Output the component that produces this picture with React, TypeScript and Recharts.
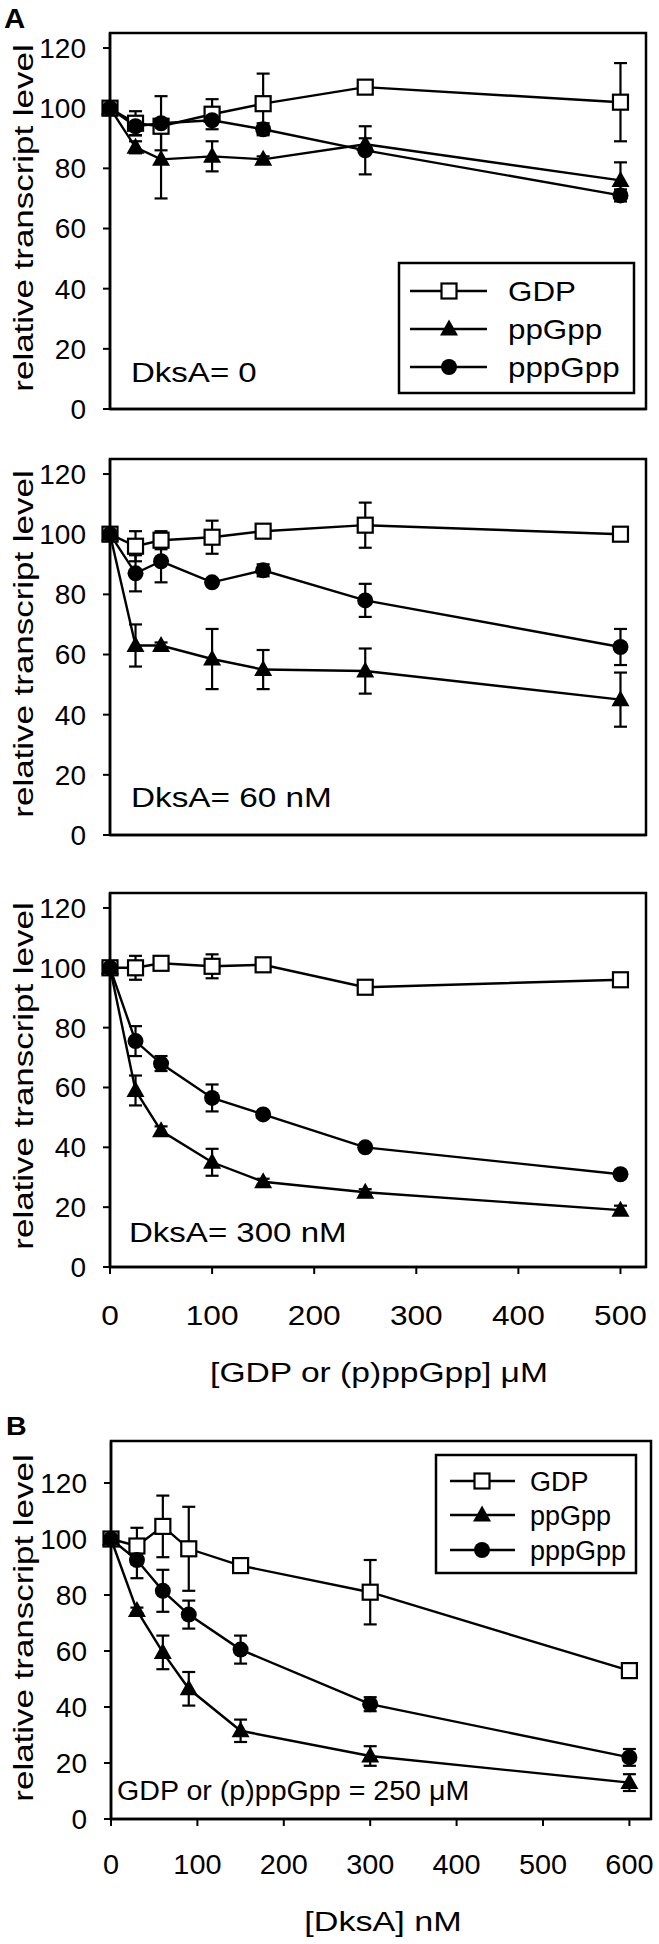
import React from "react";
import { LineChart, Line, XAxis, YAxis, ErrorBar, ReferenceArea } from "recharts";

const FONT = '"Liberation Sans", Arial, Helvetica, sans-serif';

// panel A: nucleotide concentration (µM)
const concA = [0, 25, 50, 100, 150, 250, 500];
// panel B: DksA concentration (nM)
const dksaB = [0, 30, 60, 90, 150, 300, 600];

const xTicksA = [0, 100, 200, 300, 400, 500];
const xTicksB = [0, 100, 200, 300, 400, 500, 600];
const yTicks = [0, 20, 40, 60, 80, 100, 120];

// DksA = 0
const gdp0 = [100, 95, 94, 98, 101.5, 107, 102];
const gdp0Err = [0, 4, 2, 5, 10, 2, 13];
const pp0 = [100, 87, 83, 84, 83, 88, 76];
const pp0Err = [0, 2, 13, 5, 1, 2, 6];
const ppp0 = [100, 94, 95, 96, 93, 86, 71];
const ppp0Err = [0, 3, 9, 1, 2, 8, 2];

// DksA = 60 nM
const gdp60 = [100, 96, 98, 99, 101, 103, 100];
const gdp60Err = [0, 5, 3, 5.5, 1, 7.5, 1];
const pp60 = [100, 63, 63, 58.5, 55, 54.5, 45];
const pp60Err = [0, 7, 1, 10, 6.5, 7.5, 9];
const ppp60 = [100, 87, 91, 84, 88, 78, 62.5];
const ppp60Err = [0, 6, 7, 1, 2, 5.5, 6];

// DksA = 300 nM
const gdp300 = [100, 100, 101.5, 100.5, 101, 93.5, 96];
const gdp300Err = [0, 4, 1, 4, 1, 1, 1];
const pp300 = [100, 59, 45.5, 35, 28.5, 25, 19];
const pp300Err = [0, 5, 1.5, 4.5, 1, 1, 1.5];
const ppp300 = [100, 75.5, 68, 56.5, 51, 40, 31];
const ppp300Err = [0, 5, 2.5, 4.5, 1, 1, 1];

// B: nucleotide = 250 µM
const gdpB = [100, 97.5, 104.5, 96.5, 90.5, 81, 53];
const gdpBErr = [0, 6.5, 11, 15, 1, 11.5, 1];
const ppB = [100, 74.5, 59.5, 46.5, 31.5, 22.5, 13];
const ppBErr = [0, 1, 6, 6, 4, 3.5, 3];
const pppB = [100, 92.5, 81.5, 73, 60.5, 41, 22];
const pppBErr = [0, 6.5, 7.5, 5, 5, 2.5, 3];

function makeRows(x: number[], gdp: number[], gdpErr: number[], pp: number[], ppErr: number[], ppp: number[], pppErr: number[]) {
  return x.map((v, i) => ({
    x: v,
    gdp: gdp[i],
    gdpErr: gdpErr[i],
    pp: pp[i],
    ppErr: ppErr[i],
    ppp: ppp[i],
    pppErr: pppErr[i],
  }));
}

const triPath = (cx: number, cy: number) =>
  `M${cx},${cy - 9.5} L${cx + 9},${cy + 6.5} L${cx - 9},${cy + 6.5} Z`;

const squareDot = (p: any) => (
  <rect key={`s${p.index}`} x={p.cx - 7.5} y={p.cy - 7.5} width={15} height={15} fill="#fff" stroke="#000" strokeWidth={2.2} />
);
const triangleDot = (p: any) => <path key={`t${p.index}`} d={triPath(p.cx, p.cy)} fill="#000" />;
const circleDot = (p: any) => <circle key={`c${p.index}`} cx={p.cx} cy={p.cy} r={8} fill="#000" />;

function makeTick(sx: number) {
  return (props: any) => {
    const { x, y, payload } = props;
    return (
      <g transform={`translate(${x},${y})`}>
        <text transform={`scale(${sx},1)`} textAnchor="middle" dy="0.71em" fontSize={28} fontFamily={FONT} fill="#000">
          {payload.value}
        </text>
      </g>
    );
  };
}

type PanelProps = {
  top: number;
  plotH: number;
  axisH: number;
  rows: any[];
  xMax: number;
  yMax: number;
  xTicks: number[];
  labels: boolean;
  tickMargin: number;
  tickSx: number;
  left: number;
  right: number;
};

function Panel({ top, plotH, axisH, rows, xMax, yMax, xTicks, labels, tickMargin, tickSx, left, right }: PanelProps) {
  return (
    <div style={{ position: "absolute", left: 0, top }}>
      <LineChart
        width={659}
        height={33 + plotH + axisH}
        data={rows}
        margin={{ top: 33, right: 659 - right, bottom: 0, left: left - 80 }}
      >
        <ReferenceArea x1={0} x2={xMax} y1={0} y2={yMax} fill="none" stroke="#000" strokeWidth={2.5} />
        <XAxis
          dataKey="x"
          type="number"
          domain={[0, xMax]}
          ticks={xTicks}
          height={axisH}
          tickSize={7}
          tickMargin={tickMargin}
          axisLine={{ stroke: "#000", strokeWidth: 2.5 }}
          tickLine={{ stroke: "#000", strokeWidth: 2 }}
          tick={labels ? makeTick(tickSx) : false}
        />
        <YAxis
          type="number"
          domain={[0, yMax]}
          ticks={yTicks}
          width={80}
          tickSize={7}
          tickMargin={17}
          axisLine={{ stroke: "#000", strokeWidth: 2.5 }}
          tickLine={{ stroke: "#000", strokeWidth: 2 }}
          tick={{ fontSize: 28, fill: "#000", fontFamily: FONT }}
        />
        <Line type="linear" dataKey="gdp" stroke="#000" strokeWidth={2.4} dot={squareDot} activeDot={false} isAnimationActive={false}>
          <ErrorBar dataKey="gdpErr" width={6.5} strokeWidth={2.2} stroke="#000" direction="y" isAnimationActive={false} />
        </Line>
        <Line type="linear" dataKey="pp" stroke="#000" strokeWidth={2.4} dot={triangleDot} activeDot={false} isAnimationActive={false}>
          <ErrorBar dataKey="ppErr" width={6.5} strokeWidth={2.2} stroke="#000" direction="y" isAnimationActive={false} />
        </Line>
        <Line type="linear" dataKey="ppp" stroke="#000" strokeWidth={2.4} dot={circleDot} activeDot={false} isAnimationActive={false}>
          <ErrorBar dataKey="pppErr" width={6.5} strokeWidth={2.2} stroke="#000" direction="y" isAnimationActive={false} />
        </Line>
      </LineChart>
    </div>
  );
}

function SText({ x, y, sx = 1, size = 28, anchor = "start", bold = false, children }: any) {
  return (
    <text
      transform={`translate(${x},${y}) scale(${sx},1)`}
      textAnchor={anchor}
      fontSize={size}
      fontWeight={bold ? 700 : 400}
      fontFamily={FONT}
      fill="#000"
    >
      {children}
    </text>
  );
}

function YTitle({ cy }: { cy: number }) {
  return (
    <text
      transform={`translate(33,${cy}) rotate(-90) scale(1.27,1)`}
      textAnchor="middle"
      fontSize={27.5}
      fontFamily={FONT}
      fill="#000"
    >
      relative transcript level
    </text>
  );
}

function LegendBox({ x, y, w, h, rowY, lineX1, lineX2, mx, textX, size, sx }: any) {
  const names = ["GDP", "ppGpp", "pppGpp"];
  return (
    <g>
      <rect x={x} y={y} width={w} height={h} fill="#fff" stroke="#000" strokeWidth={2.5} />
      {names.map((n, i) => (
        <g key={n}>
          <line x1={lineX1} x2={lineX2} y1={rowY[i]} y2={rowY[i]} stroke="#000" strokeWidth={2.4} />
          {i === 0 && <rect x={mx - 7.5} y={rowY[i] - 7.5} width={15} height={15} fill="#fff" stroke="#000" strokeWidth={2.2} />}
          {i === 1 && <path d={triPath(mx, rowY[i])} fill="#000" />}
          {i === 2 && <circle cx={mx} cy={rowY[i]} r={8} fill="#000" />}
          <SText x={textX} y={rowY[i] + 10} size={size} sx={sx}>
            {n}
          </SText>
        </g>
      ))}
    </g>
  );
}

export default function App() {
  const rows0 = makeRows(concA, gdp0, gdp0Err, pp0, pp0Err, ppp0, ppp0Err);
  const rows60 = makeRows(concA, gdp60, gdp60Err, pp60, pp60Err, ppp60, ppp60Err);
  const rows300 = makeRows(concA, gdp300, gdp300Err, pp300, pp300Err, ppp300, ppp300Err);
  const rowsB = makeRows(dksaB, gdpB, gdpBErr, ppB, ppBErr, pppB, pppBErr);

  return (
    <div
      style={{
        position: "absolute",
        left: 0,
        top: 0,
        width: 659,
        height: 1944,
        background: "#fff",
        overflow: "hidden",
        fontFamily: FONT,
      }}
    >
      <Panel top={0} plotH={376} axisH={30} rows={rows0} xMax={525} yMax={125} xTicks={xTicksA} labels={false} tickMargin={2} tickSx={1} left={110} right={646} />
      <Panel top={426} plotH={376} axisH={30} rows={rows60} xMax={525} yMax={125} xTicks={xTicksA} labels={false} tickMargin={2} tickSx={1} left={110} right={646} />
      <Panel top={860} plotH={374} axisH={70} rows={rows300} xMax={525} yMax={125} xTicks={xTicksA} labels={true} tickMargin={31} tickSx={1.13} left={110} right={646} />
      <Panel top={1408} plotH={378} axisH={70} rows={rowsB} xMax={625} yMax={135} xTicks={xTicksB} labels={true} tickMargin={28} tickSx={1.03} left={111} right={651} />

      <svg width={659} height={1944} style={{ position: "absolute", left: 0, top: 0, pointerEvents: "none" }}>
        <SText x={4} y={28} size={28} bold sx={1.05}>A</SText>
        <SText x={6} y={1435} size={26} bold sx={1.1}>B</SText>

        <YTitle cy={218} />
        <YTitle cy={644} />
        <YTitle cy={1076} />
        <YTitle cy={1628} />

        <SText x={131} y={382} sx={1.18}>DksA= 0</SText>
        <SText x={131} y={807} sx={1.19}>DksA= 60 nM</SText>
        <SText x={129} y={1242} sx={1.18}>DksA= 300 nM</SText>
        <SText x={117} y={1800} size={27} sx={1.06}>GDP or (p)ppGpp = 250 μM</SText>

        <SText x={379} y={1382} anchor="middle" sx={1.2}>[GDP or (p)ppGpp] μM</SText>
        <SText x={383} y={1931} anchor="middle" sx={1.22}>[DksA] nM</SText>

        <LegendBox x={399} y={263} w={235} h={130} rowY={[291, 329, 367]} lineX1={410} lineX2={487} mx={449} textX={508} size={28} sx={1.12} />
        <LegendBox x={436} y={1455} w={200} h={118} rowY={[1481, 1515, 1550]} lineX1={450} lineX2={515} mx={482} textX={530} size={27} sx={1.0} />
      </svg>
    </div>
  );
}
